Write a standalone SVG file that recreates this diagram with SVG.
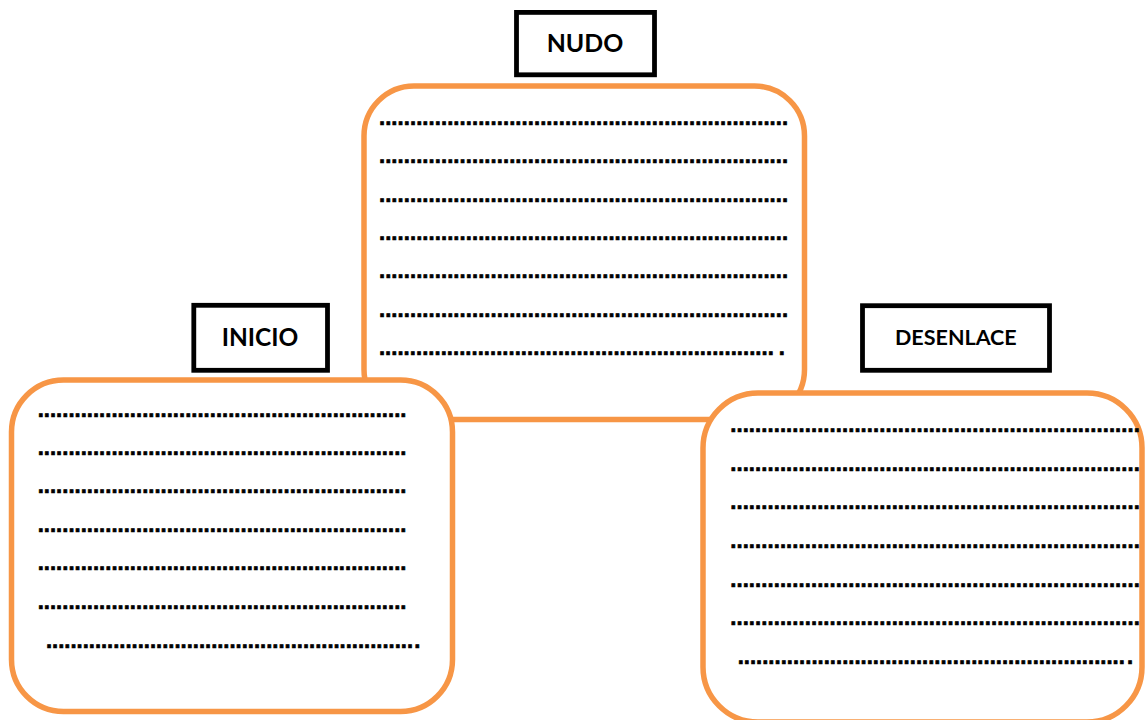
<svg xmlns="http://www.w3.org/2000/svg" width="1146" height="720" viewBox="0 0 1146 720">
<style>
.panel{fill:#ffffff;stroke:#F79646;stroke-width:5.5}
.tag{fill:#ffffff;stroke:#000000;stroke-width:4.8}
.lbl{font-family:Lato,"Open Sans","Liberation Sans",sans-serif;font-weight:bold;fill:#000000}
.dots{font-family:"Liberation Sans",Arial,sans-serif;font-weight:bold;font-size:22px;fill:#000000;stroke:#000000;stroke-width:0.7}
</style>
<rect width="1146" height="720" fill="#ffffff"/>
<g id="connectors"/>
<g id="nudo">
<rect class="panel" x="364" y="86" width="440.5" height="333.5" rx="50" ry="50"/>
<rect class="tag" x="516.5" y="12.4" width="138" height="62.4"/>
<text class="lbl" x="546.7" y="51.5" font-size="25" textLength="76.6" lengthAdjust="spacingAndGlyphs">NUDO</text>
<text class="dots" x="378.94" y="124.8" textLength="409.2" lengthAdjust="spacing">..................................................................</text>
<text class="dots" x="378.94" y="163.2" textLength="409.2" lengthAdjust="spacing">..................................................................</text>
<text class="dots" x="378.94" y="201.6" textLength="409.2" lengthAdjust="spacing">..................................................................</text>
<text class="dots" x="378.94" y="240" textLength="409.2" lengthAdjust="spacing">..................................................................</text>
<text class="dots" x="378.94" y="278.4" textLength="409.2" lengthAdjust="spacing">..................................................................</text>
<text class="dots" x="378.94" y="316.8" textLength="409.2" lengthAdjust="spacing">..................................................................</text>
<text class="dots" y="355.2"><tspan x="378.94" textLength="394.9" lengthAdjust="spacing">................................................................</tspan><tspan x="778.64">.</tspan></text>
</g>
<g id="inicio">
<rect class="panel" x="11.5" y="380" width="441" height="331.5" rx="52" ry="52"/>
<rect class="tag" x="193.8" y="305.3" width="133.7" height="65"/>
<text class="lbl" x="221.7" y="345.5" font-size="25" textLength="76.6" lengthAdjust="spacingAndGlyphs">INICIO</text>
<text class="dots" x="37.64" y="416.5" textLength="368.8" lengthAdjust="spacing">............................................................</text>
<text class="dots" x="37.64" y="454.9" textLength="368.8" lengthAdjust="spacing">............................................................</text>
<text class="dots" x="37.64" y="493.3" textLength="368.8" lengthAdjust="spacing">............................................................</text>
<text class="dots" x="37.64" y="531.7" textLength="368.8" lengthAdjust="spacing">............................................................</text>
<text class="dots" x="37.64" y="570.1" textLength="368.8" lengthAdjust="spacing">............................................................</text>
<text class="dots" x="37.64" y="608.5" textLength="368.8" lengthAdjust="spacing">............................................................</text>
<text class="dots" y="647.6"><tspan x="45.94" textLength="367.1" lengthAdjust="spacing">............................................................</tspan><tspan x="414.24">.</tspan></text>
</g>
<g id="desenlace">
<rect class="panel" x="703" y="393" width="439" height="329" rx="55" ry="55"/>
<rect class="tag" x="862.5" y="305.7" width="187" height="64.6"/>
<text class="lbl" x="895" y="345.3" font-size="21.6" textLength="121.7" lengthAdjust="spacingAndGlyphs">DESENLACE</text>
<text class="dots" x="730.24" y="432.2" textLength="409.6" lengthAdjust="spacing">..................................................................</text>
<text class="dots" x="730.24" y="470.8" textLength="409.6" lengthAdjust="spacing">..................................................................</text>
<text class="dots" x="730.24" y="509.4" textLength="409.6" lengthAdjust="spacing">..................................................................</text>
<text class="dots" x="730.24" y="548" textLength="409.6" lengthAdjust="spacing">..................................................................</text>
<text class="dots" x="730.24" y="586.6" textLength="409.6" lengthAdjust="spacing">..................................................................</text>
<text class="dots" x="730.24" y="625.2" textLength="409.6" lengthAdjust="spacing">..................................................................</text>
<text class="dots" y="663.8"><tspan x="737.64" textLength="387.2" lengthAdjust="spacing">...............................................................</tspan><tspan x="1126.94">.</tspan></text>
</g>
</svg>
